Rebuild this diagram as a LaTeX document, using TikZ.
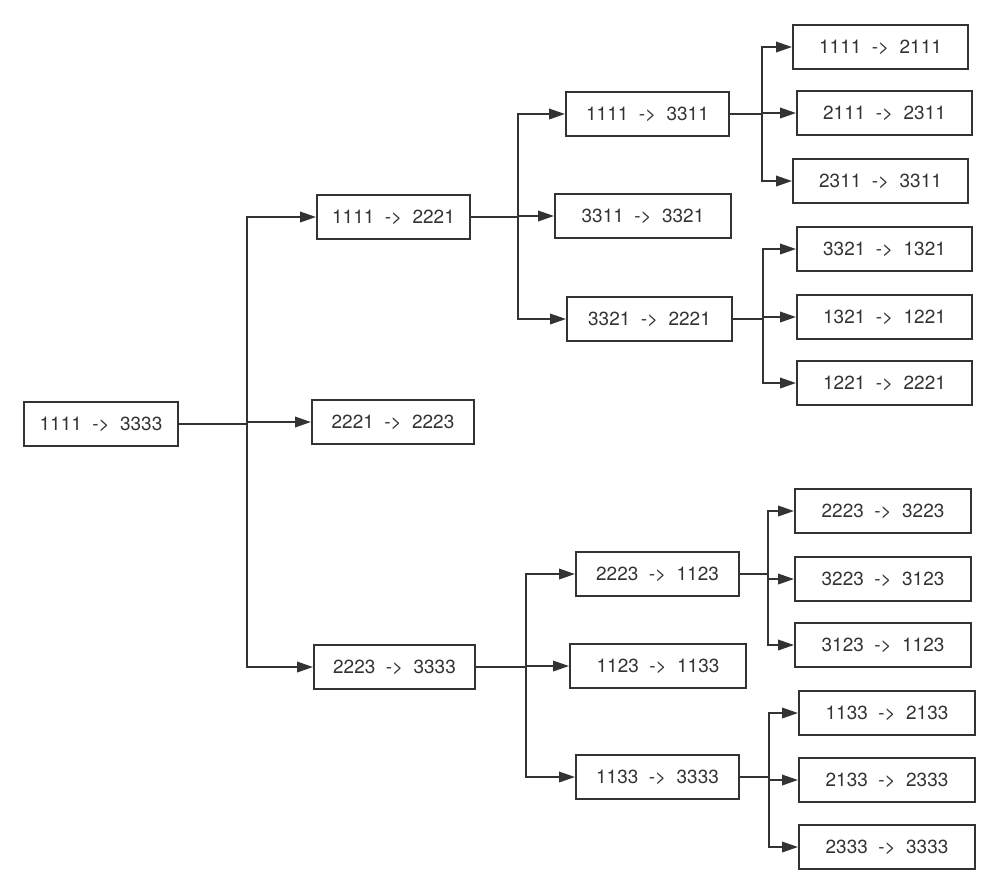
\documentclass[tikz,border=0pt]{standalone}
\usepackage{fontspec}
\setmainfont{TeX Gyre Heros}
\usetikzlibrary{arrows.meta}

\definecolor{ink}{HTML}{333333}
\newcommand{\mv}[2]{#1\hspace{.55em}->\hspace{.55em}#2}

\begin{document}
\begin{tikzpicture}[x=0.02cm,y=-0.02cm,>={Triangle[length=3.2mm,width=2.1mm]},
  box/.style={draw=ink, text=ink, line width=0.04cm, inner sep=0pt,
    minimum height=0.88cm, minimum width=#1*0.02cm,
    font=\fontsize{10.8}{13}\selectfont},
  link/.style={draw=ink, line width=0.04cm}]
\useasboundingbox (0,0) rectangle (999,894);

% root and first level
\node[box=154] (root) at (101,424) {\mv{1111}{3333}};
\node[box=153] (a) at (393.5,217) {\mv{1111}{2221}};
\node[box=162] (b) at (393,422) {\mv{2221}{2223}};
\node[box=161] (c) at (394.5,667) {\mv{2223}{3333}};

% second level
\node[box=163] (aa) at (647.5,114) {\mv{1111}{3311}};
\node[box=176] (ab) at (643,216) {\mv{3311}{3321}};
\node[box=165] (ac) at (649.5,319) {\mv{3321}{2221}};
\node[box=163] (ca) at (657.5,574) {\mv{2223}{1123}};
\node[box=176] (cb) at (658,666) {\mv{1123}{1133}};
\node[box=163] (cc) at (657.5,777) {\mv{1133}{3333}};

% third level
\node[box=175] (aaa) at (880.5,47) {\mv{1111}{2111}};
\node[box=175] (aab) at (884.5,113) {\mv{2111}{2311}};
\node[box=175] (aac) at (880.5,181) {\mv{2311}{3311}};
\node[box=175] (aca) at (884.5,249) {\mv{3321}{1321}};
\node[box=175] (acb) at (884.5,317) {\mv{1321}{1221}};
\node[box=175] (acc) at (884.5,383) {\mv{1221}{2221}};
\node[box=176] (caa) at (883,511) {\mv{2223}{3223}};
\node[box=176] (cab) at (883,579) {\mv{3223}{3123}};
\node[box=176] (cac) at (883,645) {\mv{3123}{1123}};
\node[box=176] (cca) at (887,713) {\mv{1133}{2133}};
\node[box=176] (ccb) at (887,780) {\mv{2133}{2333}};
\node[box=176] (ccc) at (887,847) {\mv{2333}{3333}};

% branch points
\coordinate (j0) at (247,424);
\coordinate (ja) at (518,217);
\coordinate (jc) at (526,667);
\coordinate (jaa) at (762,114);
\coordinate (jac) at (763,319);
\coordinate (jca) at (768,574);
\coordinate (jcc) at (769,777);

\draw[link] (root.east) -- (j0);
\foreach \k in {a,b,c} \draw[link,->] (j0) |- (\k.west);

\draw[link] (a.east) -- (ja);
\foreach \k in {aa,ab,ac} \draw[link,->] (ja) |- (\k.west);
\draw[link] (c.east) -- (jc);
\foreach \k in {ca,cb,cc} \draw[link,->] (jc) |- (\k.west);

\draw[link] (aa.east) -- (jaa);
\foreach \k in {aaa,aab,aac} \draw[link,->] (jaa) |- (\k.west);
\draw[link] (ac.east) -- (jac);
\foreach \k in {aca,acb,acc} \draw[link,->] (jac) |- (\k.west);
\draw[link] (ca.east) -- (jca);
\foreach \k in {caa,cab,cac} \draw[link,->] (jca) |- (\k.west);
\draw[link] (cc.east) -- (jcc);
\foreach \k in {cca,ccb,ccc} \draw[link,->] (jcc) |- (\k.west);
\end{tikzpicture}
\end{document}
